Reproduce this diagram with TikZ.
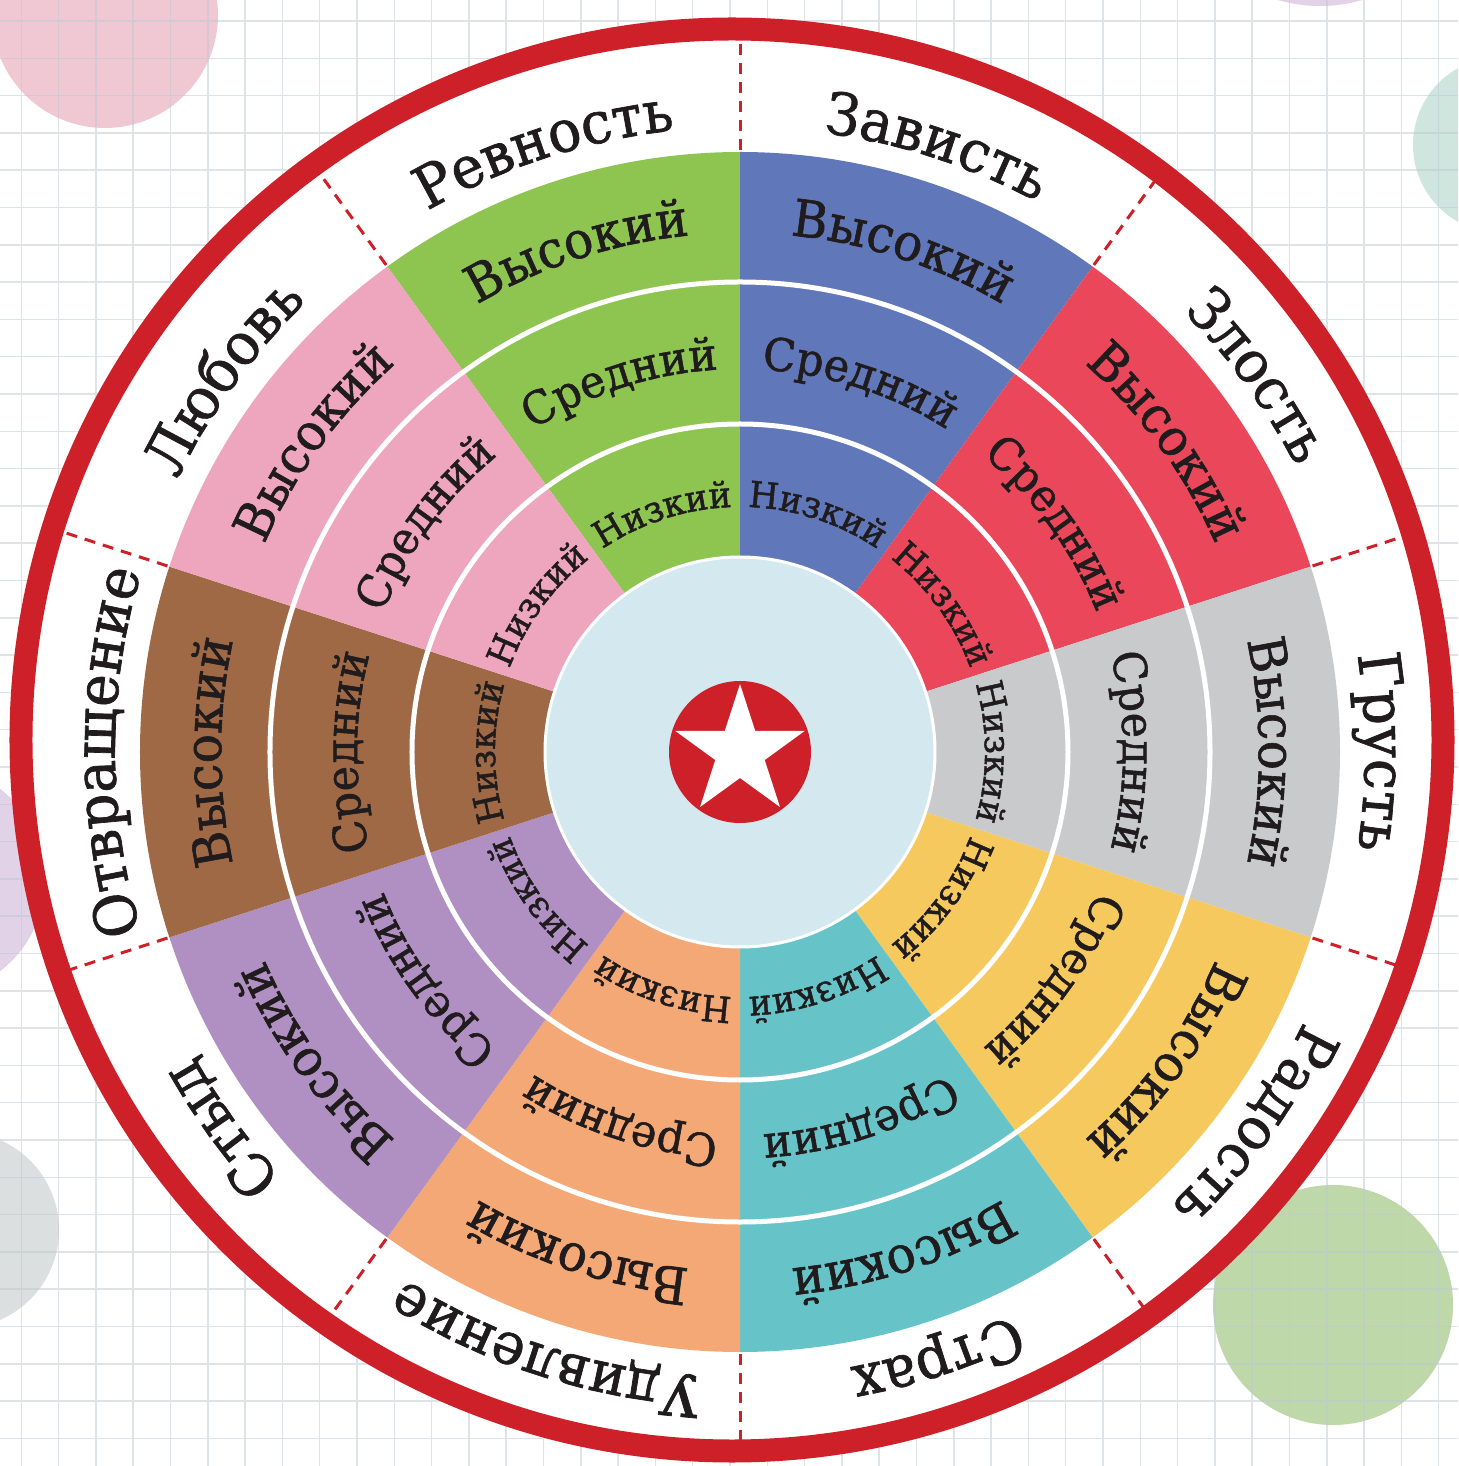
\documentclass[tikz,border=0pt]{standalone}
\usepackage{fontspec}
\usepackage{tikz}
\usetikzlibrary{decorations.text}
\newfontfamily\wheelfont[FakeBold=1.2, FakeStretch=0.95]{DejaVu Serif}

\definecolor{ringred}{RGB}{206,32,41}
\definecolor{ink}{RGB}{32,28,29}
\definecolor{gridcol}{RGB}{190,200,210}
\definecolor{wgreen}{RGB}{142,196,80}
\definecolor{wblue}{RGB}{96,119,186}
\definecolor{wred}{RGB}{234,72,90}
\definecolor{wgrey}{RGB}{201,202,204}
\definecolor{wyellow}{RGB}{246,201,95}
\definecolor{wteal}{RGB}{102,196,201}
\definecolor{worange}{RGB}{244,168,118}
\definecolor{wpurple}{RGB}{176,144,194}
\definecolor{wbrown}{RGB}{160,105,70}
\definecolor{wpink}{RGB}{238,165,190}
\definecolor{wcenter}{RGB}{212,233,239}
\definecolor{bgpink}{RGB}{240,200,212}
\definecolor{bggreen}{RGB}{190,216,170}
\definecolor{bggrey}{RGB}{219,223,223}
\definecolor{bgpurple}{RGB}{226,210,232}
\definecolor{bgmint}{RGB}{206,230,222}

\newcommand{\lblfont}{\wheelfont\fontsize{58}{64}\selectfont}
\newcommand{\highfont}{\wheelfont\fontsize{51}{56}\selectfont}
\newcommand{\midfont}{\wheelfont\fontsize{45}{50}\selectfont}
\newcommand{\lowfont}{\wheelfont\fontsize{36}{40}\selectfont}

\begin{document}
\begin{tikzpicture}[
    x=1pt, y=1pt,
    gridline/.style={gridcol, line width=1.5pt, opacity=0.5},
    sep/.style={white, line width=5pt},
    divider/.style={ringred, line width=3pt, dash pattern=on 11pt off 8pt},
    arctext/.style={decorate, decoration={text along path, text={#1}, text align=center, text color=ink}},
    low/.style={arctext={|\lowfont|Низкий}},
    mid/.style={arctext={|\midfont|Средний}},
    high/.style={arctext={|\highfont|Высокий}}
]

% Page and paper
\clip (-740,-714) rectangle (718,752);
\fill[white] (-740,-714) rectangle (718,752);
\coordinate (c) at (0,0);
\coordinate (rc) at (-8,12);

% Pastel spots
\fill[bgpink] (-635,737) circle (113);
\fill[bgpurple] (580,896) circle (150);
\fill[bgmint] (761,607) circle (88);
\fill[bggreen] (593,-553) circle (120);
\fill[bggrey] (-779,-478) circle (98);
\fill[bgpurple] (-810,-128) circle (115);

% Grid
\draw[gridline, shift={(-10,-15)}, step=37.3] (-800,-800) grid (800,800);

% Wheel base
\fill[white] (rc) circle (700);

% Sectors
\fill[wgreen]  (c) -- (126:600) arc[start angle=126, end angle=90, radius=600] -- cycle;
\fill[wblue]   (c) -- (90:600) arc[start angle=90, end angle=54, radius=600] -- cycle;
\fill[wred]    (c) -- (54:600) arc[start angle=54, end angle=18, radius=600] -- cycle;
\fill[wgrey]   (c) -- (18:600) arc[start angle=18, end angle=-18, radius=600] -- cycle;
\fill[wyellow] (c) -- (-18:600) arc[start angle=-18, end angle=-54, radius=600] -- cycle;
\fill[wteal]   (c) -- (-54:600) arc[start angle=-54, end angle=-90, radius=600] -- cycle;
\fill[worange] (c) -- (-90:600) arc[start angle=-90, end angle=-126, radius=600] -- cycle;
\fill[wpurple] (c) -- (-126:600) arc[start angle=-126, end angle=-162, radius=600] -- cycle;
\fill[wbrown]  (c) -- (-162:600) arc[start angle=-162, end angle=-198, radius=600] -- cycle;
\fill[wpink]   (c) -- (162:600) arc[start angle=162, end angle=126, radius=600] -- cycle;

% Level rings
\draw[sep] (c) circle (328);
\draw[sep] (c) circle (470);

% Centre with star
\draw[white, line width=3pt, fill=wcenter] (c) circle (195);
\fill[ringred] (c) circle (71);
\fill[white] (90:68) -- (126:26) -- (162:68) -- (198:26) -- (234:68) -- (270:26)
  -- (306:68) -- (342:26) -- (18:68) -- (54:26) -- cycle;

% Dashed dividers
\begin{scope}
\clip (rc) circle (700);
\draw[divider] (126:602) -- (126:760);
\draw[divider] (90:602) -- (90:760);
\draw[divider] (54:602) -- (54:760);
\draw[divider] (18:602) -- (18:760);
\draw[divider] (-18:602) -- (-18:760);
\draw[divider] (-54:602) -- (-54:760);
\draw[divider] (-90:602) -- (-90:760);
\draw[divider] (-126:602) -- (-126:760);
\draw[divider] (-162:602) -- (-162:760);
\draw[divider] (162:602) -- (162:760);
\end{scope}

% Outer ring
\draw[ringred, line width=23pt] (rc) circle (711);

% Ревность
\path[low]  (148:245) arc[start angle=148, delta angle=-80, radius=245];
\path[mid]  (148:383) arc[start angle=148, delta angle=-80, radius=383];
\path[high] (148:519) arc[start angle=148, delta angle=-80, radius=519];
\path[arctext={|\lblfont|Ревность}] (148:625) arc[start angle=148, delta angle=-80, radius=625];

% Зависть
\path[low]  (112:245) arc[start angle=112, delta angle=-80, radius=245];
\path[mid]  (112:383) arc[start angle=112, delta angle=-80, radius=383];
\path[high] (112:519) arc[start angle=112, delta angle=-80, radius=519];
\path[arctext={|\lblfont|Зависть}] (112:625) arc[start angle=112, delta angle=-80, radius=625];

% Злость
\path[low]  (76:245) arc[start angle=76, delta angle=-80, radius=245];
\path[mid]  (76:383) arc[start angle=76, delta angle=-80, radius=383];
\path[high] (76:519) arc[start angle=76, delta angle=-80, radius=519];
\path[arctext={|\lblfont|Злость}] (76:625) arc[start angle=76, delta angle=-80, radius=625];

% Грусть
\path[low]  (40:245) arc[start angle=40, delta angle=-80, radius=245];
\path[mid]  (40:383) arc[start angle=40, delta angle=-80, radius=383];
\path[high] (40:519) arc[start angle=40, delta angle=-80, radius=519];
\path[arctext={|\lblfont|Грусть}] (40:625) arc[start angle=40, delta angle=-80, radius=625];

% Радость
\path[low]  (4:245) arc[start angle=4, delta angle=-80, radius=245];
\path[mid]  (4:383) arc[start angle=4, delta angle=-80, radius=383];
\path[high] (4:519) arc[start angle=4, delta angle=-80, radius=519];
\path[arctext={|\lblfont|Радость}] (4:625) arc[start angle=4, delta angle=-80, radius=625];

% Страх
\path[low]  (-32:245) arc[start angle=-32, delta angle=-80, radius=245];
\path[mid]  (-32:383) arc[start angle=-32, delta angle=-80, radius=383];
\path[high] (-32:519) arc[start angle=-32, delta angle=-80, radius=519];
\path[arctext={|\lblfont|Страх}] (-32:625) arc[start angle=-32, delta angle=-80, radius=625];

% Удивление
\path[low]  (-68:245) arc[start angle=-68, delta angle=-80, radius=245];
\path[mid]  (-68:383) arc[start angle=-68, delta angle=-80, radius=383];
\path[high] (-68:519) arc[start angle=-68, delta angle=-80, radius=519];
\path[arctext={|\lblfont|Удивление}] (-68:625) arc[start angle=-68, delta angle=-80, radius=625];

% Стыд
\path[low]  (-104:245) arc[start angle=-104, delta angle=-80, radius=245];
\path[mid]  (-104:383) arc[start angle=-104, delta angle=-80, radius=383];
\path[high] (-104:519) arc[start angle=-104, delta angle=-80, radius=519];
\path[arctext={|\lblfont|Стыд}] (-104:625) arc[start angle=-104, delta angle=-80, radius=625];

% Отвращение
\path[low]  (220:245) arc[start angle=220, delta angle=-80, radius=245];
\path[mid]  (220:383) arc[start angle=220, delta angle=-80, radius=383];
\path[high] (220:519) arc[start angle=220, delta angle=-80, radius=519];
\path[arctext={|\lblfont|Отвращение}] (220:625) arc[start angle=220, delta angle=-80, radius=625];

% Любовь
\path[low]  (184:245) arc[start angle=184, delta angle=-80, radius=245];
\path[mid]  (184:383) arc[start angle=184, delta angle=-80, radius=383];
\path[high] (184:519) arc[start angle=184, delta angle=-80, radius=519];
\path[arctext={|\lblfont|Любовь}] (184:625) arc[start angle=184, delta angle=-80, radius=625];

\end{tikzpicture}
\end{document}
